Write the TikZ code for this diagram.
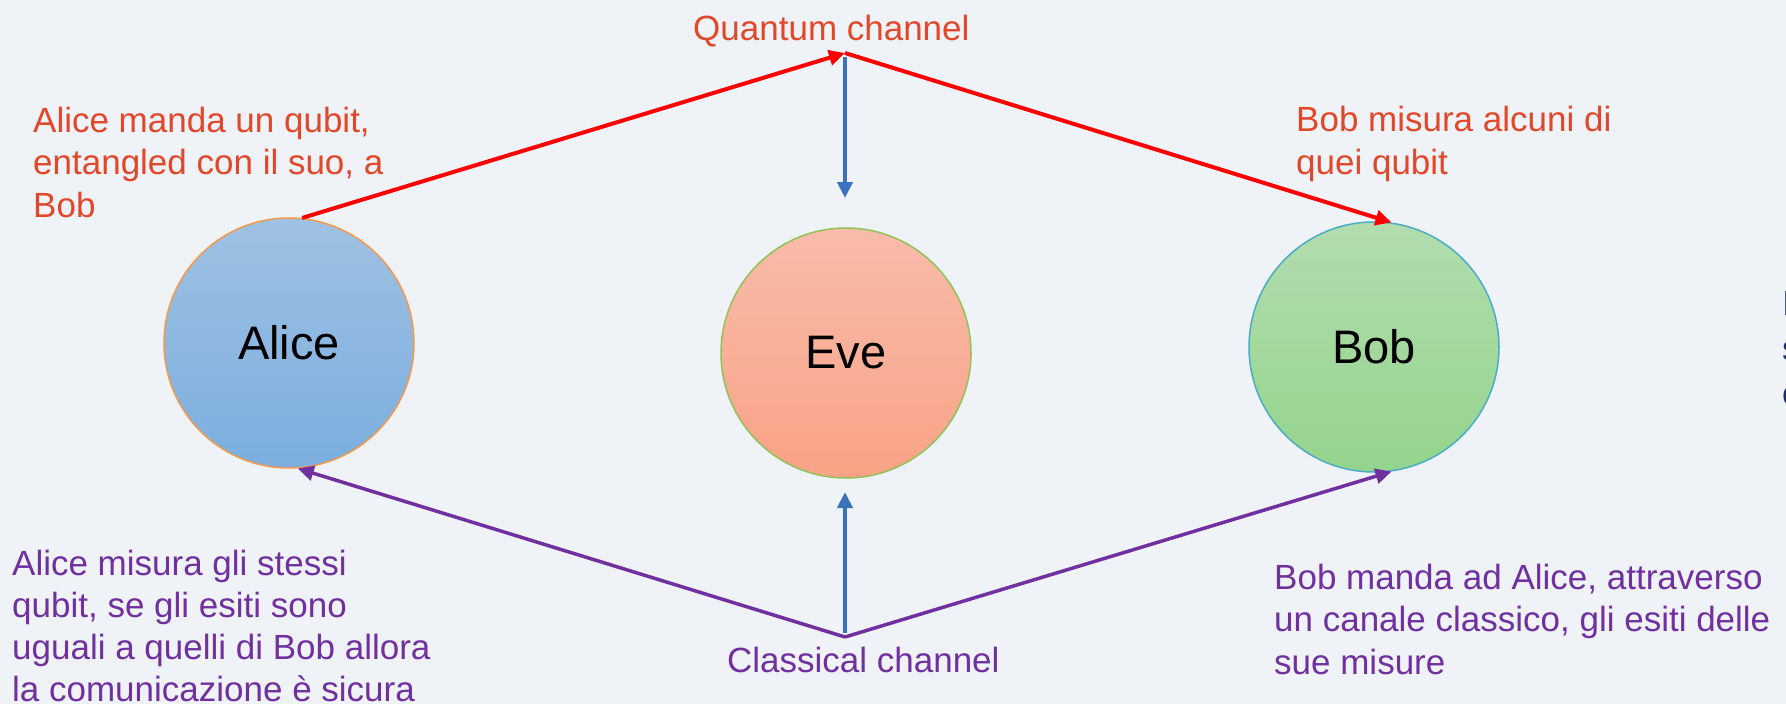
\documentclass[tikz,border=0pt]{standalone}
\usepackage{fontspec}
\setmainfont{Liberation Sans}
\usetikzlibrary{arrows.meta}
\definecolor{bg}{HTML}{EFF3F7}
\definecolor{qtext}{HTML}{E2472A}
\definecolor{qline}{HTML}{FF0000}
\definecolor{ctext}{HTML}{7030A0}
\definecolor{eline}{HTML}{3A72BE}
\definecolor{navy}{HTML}{1F2F6B}
\definecolor{aliceT}{HTML}{9FC1E3}
\definecolor{aliceB}{HTML}{7BAEDE}
\definecolor{aliceD}{HTML}{F39A4A}
\definecolor{eveT}{HTML}{F9BCAA}
\definecolor{eveB}{HTML}{F9A286}
\definecolor{eveD}{HTML}{92C15A}
\definecolor{bobT}{HTML}{B2DDAF}
\definecolor{bobB}{HTML}{94D48C}
\definecolor{bobD}{HTML}{4BACC6}
\begin{document}
\begin{tikzpicture}[x=1pt,y=-1pt,
  txt/.style={font=\fontsize{35}{42.5}\selectfont, align=left, anchor=base west, inner sep=0pt},
  person/.style={circle, minimum size=250pt, inner sep=0pt, line width=1.5pt,
                 font=\fontsize{47}{56}\selectfont, text=black},
  qarrow/.style={draw=qline, line width=4pt, -{Triangle[length=16pt,width=15pt]}},
  carrow/.style={draw=ctext, line width=3.5pt, -{Triangle[length=16pt,width=15pt]}},
  earrow/.style={draw=eline, line width=4pt, -{Triangle[length=16pt,width=15pt]}}]
\fill[bg] (0,0) rectangle (1786,704);
\useasboundingbox (0,0) rectangle (1786,704);

\node[person, top color=aliceT, bottom color=aliceB, draw=aliceD] (alice) at (289,343) {Alice};
\node[person, top color=eveT, bottom color=eveB, draw=eveD] (eve) at (846,353) {Eve};
\node[person, top color=bobT, bottom color=bobB, draw=bobD] (bob) at (1374,347) {Bob};

\coordinate (Q) at (845,53);
\coordinate (Qs) at (845,57);
\coordinate (Qe) at (845,198);
\coordinate (C) at (845,637);
\coordinate (Cs) at (845,633);
\coordinate (Ce) at (845,492);

\draw[earrow] (Qs) -- (Qe);
\draw[earrow] (Cs) -- (Ce);
\draw[qarrow] (alice.84) -- (Q);
\draw[qarrow] (Q) -- (bob.82);
\draw[carrow] (C) -- (alice.-86);
\draw[carrow] (C) -- (bob.-82);

% anchor=base west: the base of a multi-line node is its last line
\node[txt, text=qtext] (qlabel) at (693,40) {Quantum channel};
\node[txt, text=ctext] (clabel) at (727,672) {Classical channel};
\node[txt, text=qtext] (t1) at (33,217) {Alice manda un qubit,\\entangled con il suo, a\\Bob};
\node[txt, text=qtext] (t2) at (1296,174) {Bob misura alcuni di\\quei qubit};
\node[txt, text=ctext, font=\fontsize{35}{42}\selectfont] (t3) at (12,701) {Alice misura gli stessi\\qubit, se gli esiti sono\\uguali a quelli di Bob allora\\la comunicazione è sicura};
\node[txt, text=ctext] (t4) at (1274,674) {Bob manda ad Alice, attraverso\\un canale classico, gli esiti delle\\sue misure};
\begin{scope}
\clip (0,0) rectangle (1786,704);
\node[txt, text=navy, font=\fontsize{35}{45}\selectfont] (edge) at (1782,405) {I\\s\\c};
\end{scope}
\end{tikzpicture}
\end{document}
